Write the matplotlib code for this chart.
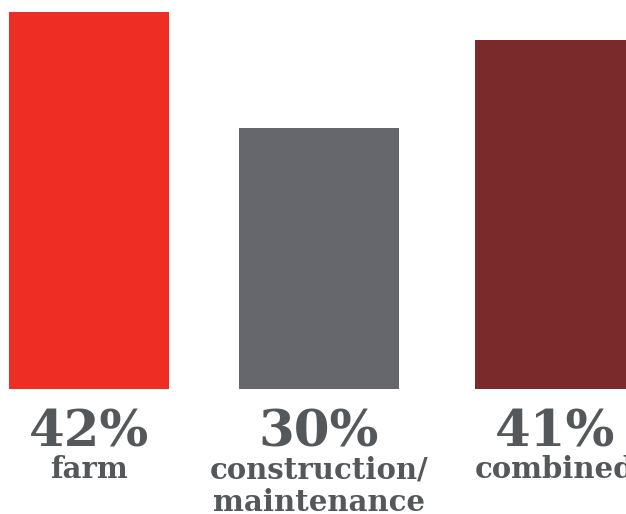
import numpy as np
import matplotlib.pyplot as plt

categories = ['farm', 'construction/\nmaintenance', 'combined']
pct_labels = ['42%', '30%', '41%']
heights = [42, 29.1, 38.9]
colors = ['#EE2E24', '#65676D', '#7B2A2C']

fig = plt.figure(figsize=(6.26, 5.14), dpi=100)
ax = fig.add_axes([0, 0, 1, 1])

x = np.array([0, 1, 2.026])
ax.bar(x, heights, width=0.696, color=colors)

ax.set_xlim(-0.387, 2.335)
ax.set_ylim(-13.93, 43.34)
ax.axis('off')

txt = '#54585A'
for xi, p, c in zip(x, pct_labels, categories):
    ax.text(xi, -4.9, p, ha='center', va='center', fontsize=37,
            family='DejaVu Serif', weight='bold', color=txt)
    ax.text(xi, -7.4, c, ha='center', va='top', fontsize=21,
            family='DejaVu Serif', weight='bold', color=txt, linespacing=1.15)

fig.savefig('out.png', dpi=100)
